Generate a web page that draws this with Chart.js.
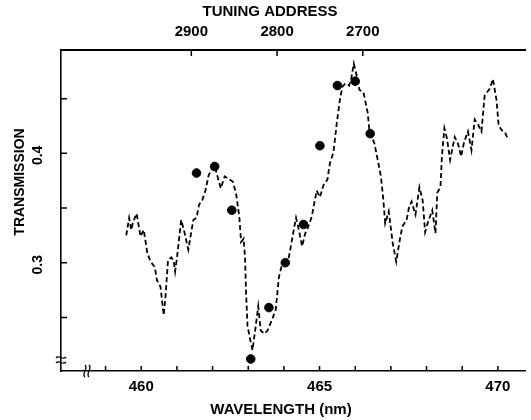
<!DOCTYPE html>
<html>
<head>
<meta charset="utf-8">
<script src="https://cdn.jsdelivr.net/npm/chart.js@4.4.1/dist/chart.umd.min.js"></script>
<style>
  body { margin: 0; background: #fff; }
</style>
</head>
<body>
<canvas id="chart" width="531" height="420"></canvas>
<script>
// ----------------------------------------------------------
// DATA
// ----------------------------------------------------------
const curveWavelength = [
  459.58, 459.66, 459.72, 459.77, 459.87, 459.98, 460.07, 460.17, 460.26, 460.38,
  460.44, 460.54, 460.63, 460.68, 460.75, 460.84, 460.91, 460.95, 461.00, 461.12,
  461.21, 461.32, 461.46, 461.55, 461.62, 461.71, 461.80, 461.89, 461.97, 462.06,
  462.13, 462.23, 462.34, 462.48, 462.57, 462.66, 462.75, 462.80, 462.87, 462.91,
  462.94, 462.98, 463.06, 463.12, 463.21, 463.28, 463.35, 463.45, 463.54, 463.68,
  463.77, 463.86, 463.93, 464.04, 464.14, 464.26, 464.34, 464.42, 464.51, 464.60,
  464.65, 464.78, 464.92, 465.01, 465.11, 465.22, 465.29, 465.39, 465.48, 465.57,
  465.64, 465.73, 465.83, 465.89, 465.96, 466.05, 466.12, 466.23, 466.35, 466.40,
  466.54, 466.63, 466.72, 466.79, 466.84, 466.94, 467.05, 467.15, 467.25, 467.32,
  467.44, 467.51, 467.58, 467.69, 467.80, 467.89, 467.96, 468.04, 468.16, 468.25,
  468.30, 468.39, 468.43, 468.50, 468.57, 468.66, 468.79, 468.88, 468.97, 469.05,
  469.16, 469.26, 469.35, 469.45, 469.54, 469.63, 469.77, 469.86, 469.96, 470.02,
  470.11, 470.19, 470.28
];
const curveTransmission = [
  0.325, 0.341, 0.330, 0.337, 0.345, 0.324, 0.330, 0.309, 0.301, 0.296,
  0.284, 0.278, 0.252, 0.269, 0.302, 0.305, 0.302, 0.292, 0.304, 0.339,
  0.328, 0.312, 0.339, 0.341, 0.353, 0.357, 0.366, 0.380, 0.385, 0.389,
  0.380, 0.368, 0.379, 0.376, 0.374, 0.363, 0.342, 0.319, 0.322, 0.305,
  0.272, 0.242, 0.229, 0.220, 0.242, 0.260, 0.238, 0.235, 0.238, 0.249,
  0.257, 0.287, 0.296, 0.299, 0.305, 0.327, 0.341, 0.330, 0.315, 0.327,
  0.330, 0.342, 0.366, 0.360, 0.371, 0.376, 0.391, 0.401, 0.427, 0.449,
  0.461, 0.464, 0.462, 0.469, 0.482, 0.470, 0.458, 0.456, 0.437, 0.420,
  0.409, 0.394, 0.379, 0.357, 0.336, 0.347, 0.318, 0.301, 0.321, 0.333,
  0.339, 0.351, 0.356, 0.344, 0.369, 0.357, 0.328, 0.337, 0.348, 0.327,
  0.364, 0.369, 0.397, 0.423, 0.414, 0.394, 0.415, 0.409, 0.397, 0.410,
  0.420, 0.403, 0.431, 0.426, 0.420, 0.453, 0.459, 0.468, 0.449, 0.426,
  0.421, 0.420, 0.413
];

const dotWavelength   = [461.55, 462.06, 462.54, 463.07, 463.58, 464.04, 464.55, 465.01, 465.50, 466.00, 466.42];
const dotTransmission = [0.382, 0.388, 0.348, 0.212, 0.259, 0.300, 0.335, 0.407, 0.462, 0.466, 0.418];

const wavelengthTicks   = [460, 465, 470];
const wavelengthMinor   = [459, 460, 461, 462, 463, 464, 465, 466, 467, 468, 469, 470];
const addressTicks      = [2900, 2800, 2700];
const transmissionTicks = [0.3, 0.4];
const transmissionMinor = [0.25, 0.3, 0.35, 0.4, 0.45];

// ----------------------------------------------------------
// HELPERS
// ----------------------------------------------------------
const FONT = '"Liberation Sans", Arial, sans-serif';

function pairs(xs, ys) {
    return xs.map((x, i) => ({ x: x, y: ys[i] }));
}

function fixedTicks(list) {
    return function (scale) {
        scale.ticks = list.map(v => ({ value: v }));
    };
}

// inward ticks, axis breaks, rotated y labels and axis titles
const axisDecor = {
    id: "axisDecor",
    afterDraw(chart) {
        const ctx = chart.ctx;
        const { left, top, bottom } = chart.chartArea;
        const sx = chart.scales.x, sy = chart.scales.y, sx2 = chart.scales.x2;

        ctx.save();
        ctx.strokeStyle = "#000";
        ctx.lineWidth = 1.5;

        ctx.beginPath();
        wavelengthMinor.forEach(v => {
            const px = sx.getPixelForValue(v);
            ctx.moveTo(px, bottom);
            ctx.lineTo(px, bottom - 5);
        });
        transmissionMinor.forEach(v => {
            const py = sy.getPixelForValue(v);
            ctx.moveTo(left, py);
            ctx.lineTo(left + 6, py);
        });
        addressTicks.forEach(v => {
            const px = sx2.getPixelForValue(v);
            ctx.moveTo(px, top);
            ctx.lineTo(px, top + 6);
        });
        ctx.stroke();

        // axis breaks
        ctx.lineWidth = 1.3;
        ctx.beginPath();
        [357, 362].forEach(yb => {
            ctx.moveTo(left - 5, yb + 1);
            ctx.bezierCurveTo(left - 2, yb - 3, left + 2, yb + 4, left + 5, yb);
        });
        [85, 89].forEach(xb => {
            ctx.moveTo(xb, bottom - 6);
            ctx.bezierCurveTo(xb + 4, bottom - 3, xb - 4, bottom + 3, xb, bottom + 6);
        });
        ctx.stroke();

        ctx.fillStyle = "#000";
        ctx.textAlign = "center";
        ctx.textBaseline = "middle";

        ctx.font = "bold 14px " + FONT;
        transmissionTicks.forEach(v => {
            const py = sy.getPixelForValue(v);
            ctx.save();
            ctx.translate(38, py + 2);
            ctx.rotate(-Math.PI / 2);
            ctx.fillText(v.toFixed(1), 0, 0);
            ctx.restore();
        });

        ctx.font = "bold 14px " + FONT;
        ctx.save();
        ctx.translate(20, 182);
        ctx.rotate(-Math.PI / 2);
        ctx.fillText("TRANSMISSION", 0, 0);
        ctx.restore();

        ctx.font = "bold 15px " + FONT;
        ctx.fillText("WAVELENGTH (nm)", 281, 410);
        ctx.fillText("TUNING ADDRESS", 270, 12);

        ctx.restore();
    }
};

// ----------------------------------------------------------
// CHART
// ----------------------------------------------------------
const ctx = document.getElementById("chart").getContext("2d");
new Chart(ctx, {
    type: "line",
    data: {
        datasets: [
            {
                label: "spectrum",
                data: pairs(curveWavelength, curveTransmission),
                borderColor: "#000",
                borderWidth: 1.8,
                borderDash: [5, 3],
                pointRadius: 0,
                tension: 0,
                fill: false
            },
            {
                type: "scatter",
                label: "tuning points",
                data: pairs(dotWavelength, dotTransmission),
                backgroundColor: "#000",
                borderColor: "#000",
                pointRadius: 4.3
            }
        ]
    },
    options: {
        responsive: false,
        animation: false,
        layout: { padding: 0 },
        plugins: {
            legend: { display: false },
            tooltip: { enabled: false }
        },
        scales: {
            x: {
                type: "linear",
                position: "bottom",
                min: 457.75,
                max: 470.78,
                afterBuildTicks: fixedTicks(wavelengthTicks),
                afterFit(scale) { scale.height = 49; },
                grid: { drawOnChartArea: false, drawTicks: false },
                border: { display: true, color: "#000", width: 1.6 },
                ticks: {
                    color: "#000",
                    padding: 7,
                    maxRotation: 0,
                    callback: v => String(v),
                    font: { family: FONT, weight: "bold", size: 15 }
                }
            },
            x2: {
                type: "linear",
                position: "top",
                reverse: true,
                min: 2510,
                max: 3052,
                afterBuildTicks: fixedTicks(addressTicks),
                afterFit(scale) { scale.height = 50; },
                grid: { drawOnChartArea: false, drawTicks: false },
                border: { display: true, color: "#000", width: 2 },
                ticks: {
                    color: "#000",
                    padding: 9,
                    maxRotation: 0,
                    callback: v => String(v),
                    font: { family: FONT, weight: "bold", size: 15 }
                }
            },
            y: {
                type: "linear",
                min: 0.201,
                max: 0.4945,
                afterBuildTicks: fixedTicks(transmissionTicks),
                afterFit(scale) { scale.width = 61; },
                grid: { drawOnChartArea: false, drawTicks: false },
                border: { display: true, color: "#000", width: 1.6 },
                ticks: { display: false }
            }
        }
    },
    plugins: [axisDecor]
});
</script>
</body>
</html>
